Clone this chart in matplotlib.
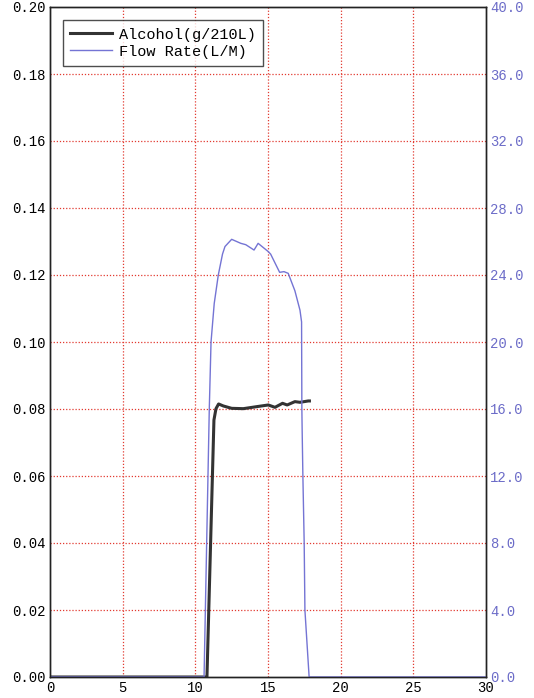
import matplotlib
matplotlib.use("Agg")
import matplotlib.pyplot as plt
from matplotlib.ticker import FuncFormatter

# ---- data ----
alc_x = [0, 10.8, 11.28, 11.42, 11.6, 11.93, 12.5, 13.3, 14.22, 15.02, 15.48,
         16.0, 16.32, 16.85, 17.2, 17.77, 17.85]
alc_y = [0, 0, 0.0767, 0.0801, 0.0815, 0.0809, 0.0802, 0.0801, 0.0807, 0.0812,
         0.0805, 0.0817, 0.0812, 0.0822, 0.0820, 0.0824, 0.0824]

flow_x = [0, 10.6, 10.96, 11.08, 11.3, 11.58, 11.87, 12.04, 12.5, 13.13, 13.47,
          14.04, 14.32, 15.0, 15.18, 15.8, 16.1, 16.39, 16.85, 17.2, 17.31,
          17.33, 17.35, 17.40, 17.49, 17.54, 17.83, 30]
flow_y = [0, 0, 16.0, 20.0, 22.3, 24.0, 25.25, 25.7, 26.13, 25.89, 25.81,
          25.49, 25.89, 25.41, 25.25, 24.16, 24.2, 24.1, 23.06, 21.9, 21.2,
          16.0, 14.75, 12.0, 8.0, 4.0, 0, 0]

x_ticks = [0, 5, 10, 15, 20, 25, 30]
alc_ticks = [0.00, 0.02, 0.04, 0.06, 0.08, 0.10, 0.12, 0.14, 0.16, 0.18, 0.20]
flow_ticks = [0.0, 4.0, 8.0, 12.0, 16.0, 20.0, 24.0, 28.0, 32.0, 36.0, 40.0]

legend_labels = ["Alcohol(g/210L)", "Flow Rate(L/M)"]

# ---- style ----
mono = ["Liberation Mono", "DejaVu Sans Mono"]
blue = "#7474d4"
blue_txt = "#6c6cc8"
grid_red = "#e23a30"

fig = plt.figure(figsize=(5.34, 6.98), dpi=100)
ax1 = fig.add_axes([50 / 534, 21 / 698, 436 / 534, 670 / 698])
ax2 = ax1.twinx()

ax1.set_xlim(0, 30)
ax1.set_ylim(0, 0.20)
ax2.set_ylim(0, 40)

ax1.set_xticks(x_ticks)
ax1.set_yticks(alc_ticks)
ax2.set_yticks(flow_ticks)
ax1.yaxis.set_major_formatter(FuncFormatter(lambda v, p: f"{v:.2f}"))
ax2.yaxis.set_major_formatter(FuncFormatter(lambda v, p: f"{v:.1f}"))
ax1.xaxis.set_major_formatter(FuncFormatter(lambda v, p: f"{v:.0f}"))

for lab in ax1.get_xticklabels() + ax1.get_yticklabels():
    lab.set_family(mono)
    lab.set_fontsize(10)
for lab in ax2.get_yticklabels():
    lab.set_family(mono)
    lab.set_fontsize(10)
    lab.set_color(blue_txt)

ax1.tick_params(axis="both", length=0, pad=3)
ax2.tick_params(axis="y", length=0, pad=3)

# grid
for xv in x_ticks[1:-1]:
    ax1.axvline(xv, color=grid_red, lw=0.9, ls=(0, (1, 1.5)), zorder=0)
for yv in alc_ticks[1:-1]:
    ax1.axhline(yv, color=grid_red, lw=0.9, ls=(0, (1, 1.5)), zorder=0)

for ax in (ax1, ax2):
    for s in ax.spines.values():
        s.set_color("#222222")
        s.set_linewidth(1.0)

l_alc, = ax1.plot(alc_x, alc_y, color="#333333", lw=2.2, zorder=3,
                  solid_joinstyle="round")
l_flow, = ax2.plot(flow_x, flow_y, color=blue, lw=1.0, zorder=2)

leg = ax2.legend([l_alc, l_flow], legend_labels, loc="upper left",
                 bbox_to_anchor=(12.8 / 436, 1 - 13 / 670),
                 prop={"family": mono, "size": 11}, fancybox=False,
                 frameon=True, edgecolor="#222222", handlelength=2.7,
                 handletextpad=0.45, borderpad=0.5, labelspacing=0.2,
                 borderaxespad=0)
leg.get_frame().set_linewidth(1.0)

fig.savefig("out.png", dpi=100)
